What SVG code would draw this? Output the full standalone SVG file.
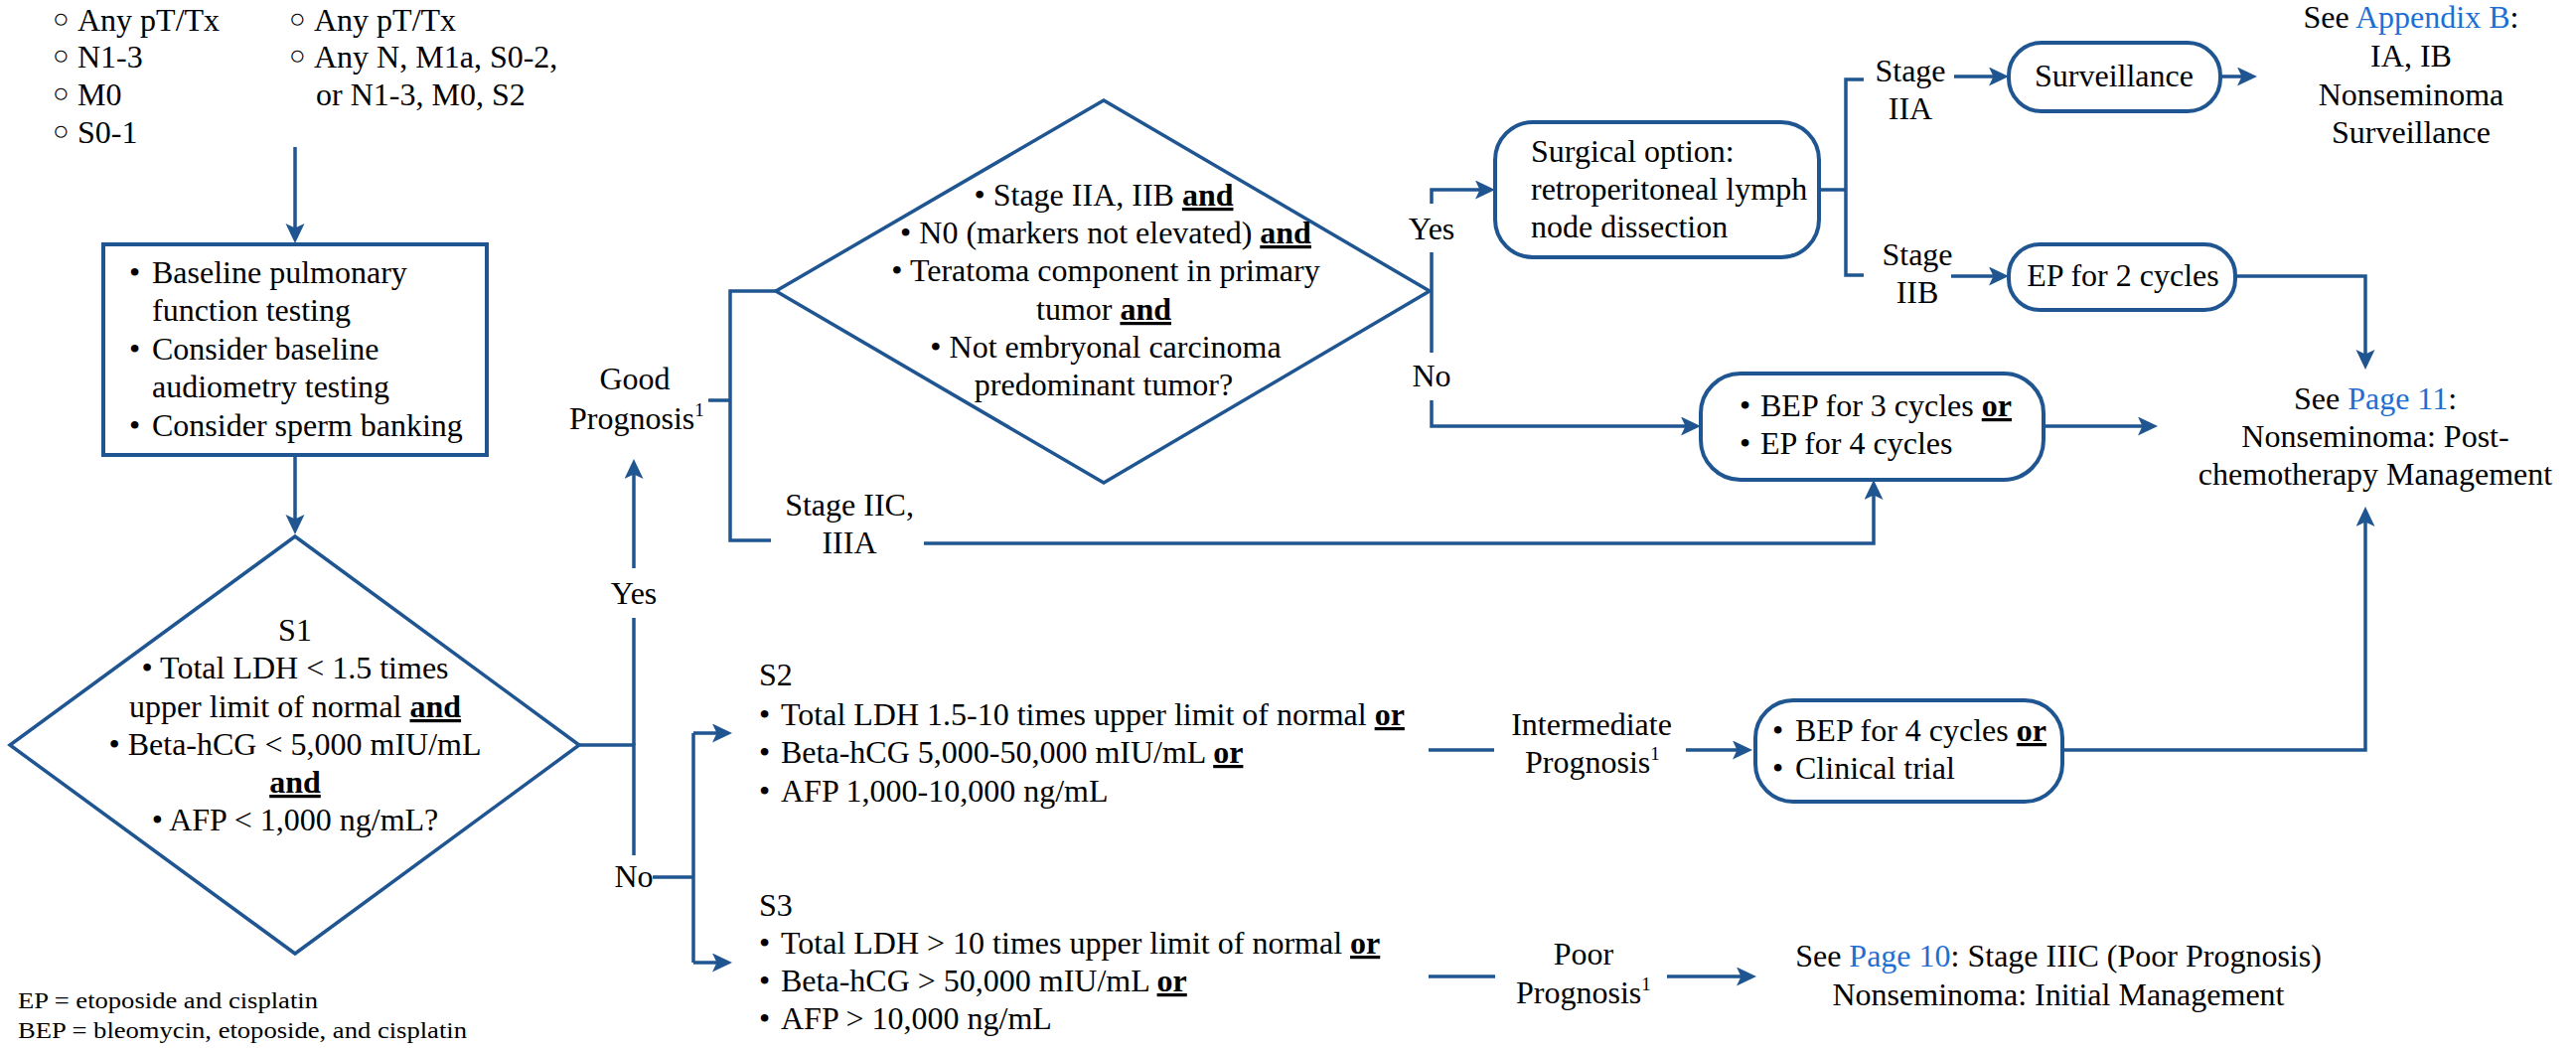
<svg xmlns="http://www.w3.org/2000/svg" width="2593" height="1055" viewBox="0 0 2593 1055">
  <style>
    .t { font-family: "Liberation Serif", "Times New Roman", serif; font-size: 32px; fill: #000; }
    .c { text-anchor: middle; }
    .b { font-weight: bold; text-decoration: underline; }
    .lk { fill: #1f6fd2; }
    .sup { font-size: 19px; }
    .ob { font-size: 28px; }
    .fn { font-family: "Liberation Serif", "Times New Roman", serif; font-size: 24px; fill: #000; }
    .ln { fill: none; stroke: #1f5591; stroke-width: 3.5; }
    .ar { marker-end: url(#ah); }
    .box { fill: #fff; stroke: #1f5591; stroke-width: 4; }
    .dia { fill: #fff; stroke: #1f5591; stroke-width: 3.5; }
  </style>
  <defs>
    <marker id="ah" markerUnits="userSpaceOnUse" markerWidth="22" markerHeight="20" refX="10" refY="9.5" orient="auto">
      <path d="M0,0 L20,9.5 L0,19 L4.5,9.5 z" fill="#1f5591"/>
    </marker>
  </defs>
  <rect width="2593" height="1055" fill="#fff"/>

  <!-- connectors -->
  <g id="connectors" class="ln">
    <path class="ar" d="M297,148 V235"/>
    <path class="ar" d="M297,458 V528"/>
    <path d="M583,750 H638 V861"/>
    <path d="M638,750 V622"/>
    <path class="ar" d="M638,572 V472"/>
    <path d="M657,883 H698"/>
    <path d="M698,738 V969"/>
    <path class="ar" d="M698,738 H727"/>
    <path class="ar" d="M698,969 H727"/>
    <path d="M713,403 H735"/>
    <path d="M781,293 H735 V544 H776"/>
    <path class="ar" d="M930,547 H1886 V493"/>
    <path class="ar" d="M1441,205 V191 H1495"/>
    <path d="M1441,254 V355"/>
    <path class="ar" d="M1441,403 V429 H1702"/>
    <path d="M1831,191 H1858"/>
    <path d="M1876,80 H1858 V277 H1876"/>
    <path class="ar" d="M1967,77 H2012"/>
    <path class="ar" d="M2235,77 H2262"/>
    <path class="ar" d="M1964,278 H2012"/>
    <path class="ar" d="M2250,278 H2381 V362"/>
    <path class="ar" d="M2057,429 H2162"/>
    <path d="M1438,755 H1504"/>
    <path class="ar" d="M1697,755 H1754"/>
    <path class="ar" d="M2076,755 H2381 V520"/>
    <path d="M1438,983 H1505"/>
    <path class="ar" d="M1678,983 H1758"/>
  </g>

  <!-- staging criteria at the top -->
  <g id="criteria-good" class="t">
    <text x="53" y="31"><tspan class="ob" dy="-3">○</tspan><tspan x="78" dy="3">Any pT/Tx</tspan></text>
    <text x="53" y="68"><tspan class="ob" dy="-3">○</tspan><tspan x="78" dy="3">N1-3</tspan></text>
    <text x="53" y="106"><tspan class="ob" dy="-3">○</tspan><tspan x="78" dy="3">M0</tspan></text>
    <text x="53" y="144"><tspan class="ob" dy="-3">○</tspan><tspan x="78" dy="3">S0-1</tspan></text>
  </g>
  <g id="criteria-other" class="t">
    <text x="291" y="31"><tspan class="ob" dy="-3">○</tspan><tspan x="316" dy="3">Any pT/Tx</tspan></text>
    <text x="291" y="68"><tspan class="ob" dy="-3">○</tspan><tspan x="316" dy="3">Any N, M1a, S0-2,</tspan></text>
    <text x="318" y="106">or N1-3, M0, S2</text>
  </g>

  <!-- baseline work-up -->
  <g id="workup">
    <rect class="box" x="104" y="246" width="386" height="212"/>
    <g class="t">
      <text x="130" y="285">•<tspan x="153">Baseline pulmonary</tspan></text>
      <text x="153" y="323">function testing</text>
      <text x="130" y="362">•<tspan x="153">Consider baseline</tspan></text>
      <text x="153" y="400">audiometry testing</text>
      <text x="130" y="439">•<tspan x="153">Consider sperm banking</tspan></text>
    </g>
  </g>

  <!-- S1 decision -->
  <g id="s1">
    <polygon class="dia" points="297,540 583,750 297,960 10,750"/>
    <g class="t c">
      <text x="297" y="645">S1</text>
      <text x="297" y="683">• Total LDH &lt; 1.5 times</text>
      <text x="297" y="722">upper limit of normal <tspan class="b">and</tspan></text>
      <text x="297" y="760">• Beta-hCG &lt; 5,000 mIU/mL</text>
      <text x="297" y="798" class="b">and</text>
      <text x="297" y="836">• AFP &lt; 1,000 ng/mL?</text>
    </g>
  </g>

  <g id="yes-no-s1" class="t c">
    <text x="638" y="608">Yes</text>
    <text x="638" y="893">No</text>
  </g>

  <g id="good-prognosis" class="t">
    <text x="639" y="392" class="c">Good</text>
    <text x="573" y="432">Prognosis<tspan class="sup" dy="-13">1</tspan></text>
  </g>

  <!-- good prognosis decision -->
  <g id="d2">
    <polygon class="dia" points="1111,101 1439,293 1111,486 781,293"/>
    <g class="t c">
      <text x="1111" y="207">• Stage IIA, IIB <tspan class="b">and</tspan></text>
      <text x="1113" y="245">• N0 (markers not elevated) <tspan class="b">and</tspan></text>
      <text x="1113" y="283">• Teratoma component in primary</text>
      <text x="1111" y="322">tumor <tspan class="b">and</tspan></text>
      <text x="1113" y="360">• Not embryonal carcinoma</text>
      <text x="1111" y="398">predominant tumor?</text>
    </g>
  </g>

  <g id="yes-no-d2" class="t c">
    <text x="1441" y="241">Yes</text>
    <text x="1441" y="389">No</text>
  </g>

  <g id="stage-iic" class="t c">
    <text x="855" y="519">Stage IIC,</text>
    <text x="855" y="557">IIIA</text>
  </g>

  <g id="surgery">
    <rect class="box" x="1505" y="123" width="326" height="136" rx="38"/>
    <g class="t">
      <text x="1541" y="163">Surgical option:</text>
      <text x="1541" y="201">retroperitoneal lymph</text>
      <text x="1541" y="239">node dissection</text>
    </g>
  </g>

  <g id="stage-iia" class="t c">
    <text x="1923" y="82">Stage</text>
    <text x="1923" y="120">IIA</text>
  </g>
  <g id="stage-iib" class="t c">
    <text x="1930" y="267">Stage</text>
    <text x="1930" y="305">IIB</text>
  </g>

  <g id="surveillance">
    <rect class="box" x="2022" y="43" width="213" height="69" rx="33"/>
    <text class="t c" x="2128" y="87">Surveillance</text>
  </g>

  <g id="appendix-b" class="t c">
    <text x="2427" y="28">See <tspan class="lk">Appendix B</tspan>:</text>
    <text x="2427" y="67">IA, IB</text>
    <text x="2427" y="106">Nonseminoma</text>
    <text x="2427" y="144">Surveillance</text>
  </g>

  <g id="ep2">
    <rect class="box" x="2022" y="246" width="228" height="66" rx="31"/>
    <text class="t c" x="2137" y="288">EP for 2 cycles</text>
  </g>

  <g id="bep3">
    <rect class="box" x="1712" y="376" width="345" height="107" rx="40"/>
    <g class="t">
      <text x="1751" y="419">•<tspan x="1772">BEP for 3 cycles <tspan class="b">or</tspan></tspan></text>
      <text x="1751" y="457">•<tspan x="1772">EP for 4 cycles</tspan></text>
    </g>
  </g>

  <g id="page-11" class="t c">
    <text x="2391" y="412">See <tspan class="lk">Page 11</tspan>:</text>
    <text x="2391" y="450">Nonseminoma: Post-</text>
    <text x="2391" y="488">chemotherapy Management</text>
  </g>

  <!-- S2 / S3 criteria -->
  <g id="s2" class="t">
    <text x="764" y="690">S2</text>
    <text x="764" y="730">•<tspan x="786">Total LDH 1.5-10 times upper limit of normal <tspan class="b">or</tspan></tspan></text>
    <text x="764" y="768">•<tspan x="786">Beta-hCG 5,000-50,000 mIU/mL <tspan class="b">or</tspan></tspan></text>
    <text x="764" y="807">•<tspan x="786">AFP 1,000-10,000 ng/mL</tspan></text>
  </g>
  <g id="s3" class="t">
    <text x="764" y="922">S3</text>
    <text x="764" y="960">•<tspan x="786">Total LDH &gt; 10 times upper limit of normal <tspan class="b">or</tspan></tspan></text>
    <text x="764" y="998">•<tspan x="786">Beta-hCG &gt; 50,000 mIU/mL <tspan class="b">or</tspan></tspan></text>
    <text x="764" y="1036">•<tspan x="786">AFP &gt; 10,000 ng/mL</tspan></text>
  </g>

  <g id="intermediate" class="t">
    <text x="1602" y="740" class="c">Intermediate</text>
    <text x="1535" y="778">Prognosis<tspan class="sup" dy="-13">1</tspan></text>
  </g>

  <g id="bep4">
    <rect class="box" x="1767" y="705" width="309" height="102" rx="38"/>
    <g class="t">
      <text x="1784" y="746">•<tspan x="1807">BEP for 4 cycles <tspan class="b">or</tspan></tspan></text>
      <text x="1784" y="784">•<tspan x="1807">Clinical trial</tspan></text>
    </g>
  </g>

  <g id="poor" class="t">
    <text x="1594" y="971" class="c">Poor</text>
    <text x="1526" y="1010">Prognosis<tspan class="sup" dy="-13">1</tspan></text>
  </g>

  <g id="page-10" class="t c">
    <text x="2072" y="973">See <tspan class="lk">Page 10</tspan>: Stage IIIC (Poor Prognosis)</text>
    <text x="2072" y="1012">Nonseminoma: Initial Management</text>
  </g>

  <!-- abbreviations -->
  <g id="abbreviations" class="fn">
    <text x="18" y="1015" textLength="302" lengthAdjust="spacingAndGlyphs">EP = etoposide and cisplatin</text>
    <text x="18" y="1045" textLength="452" lengthAdjust="spacingAndGlyphs">BEP = bleomycin, etoposide, and cisplatin</text>
  </g>
</svg>
